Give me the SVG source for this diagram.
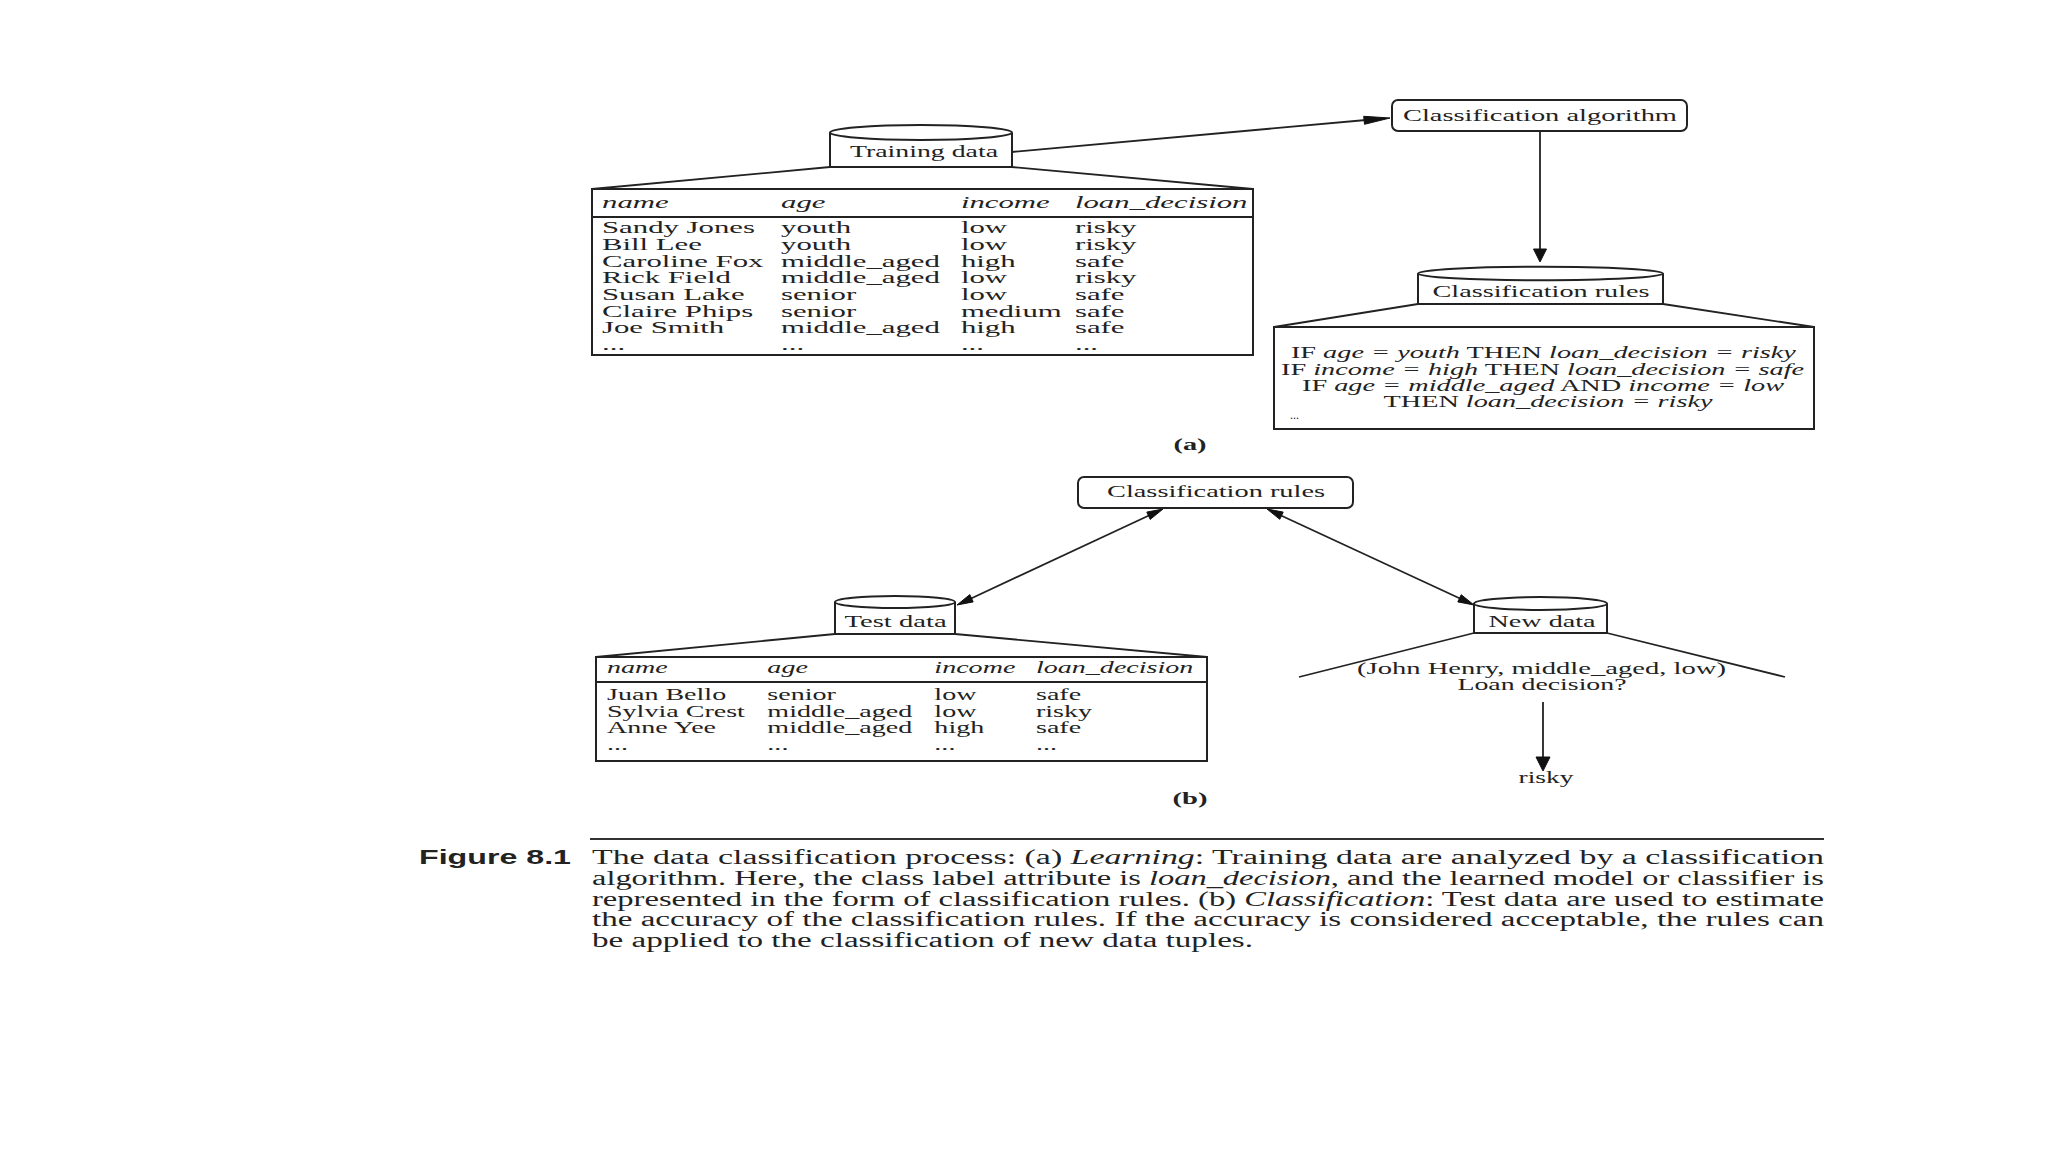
<svg xmlns="http://www.w3.org/2000/svg" width="2048" height="1152" viewBox="0 0 2048 1152">
<style>
  .bg{fill:#ffffff}
  .shape{fill:#ffffff;stroke:#222;stroke-width:2}
  .ln{fill:none;stroke:#222;stroke-width:1.8}
  .conn{fill:none;stroke:#222;stroke-width:1.8}
  .head{fill:#111;stroke:#111;stroke-width:1}
  .t{font-family:"Liberation Serif","Times New Roman",serif;font-size:17px;fill:#222}
  .i{font-style:italic}
  .b{font-weight:bold}
  .mid{text-anchor:middle}
  .cap{font-family:"Liberation Serif","Times New Roman",serif;font-size:20.5px;fill:#222}
  .fig{font-family:"Liberation Sans",Arial,sans-serif;font-size:20px;font-weight:bold;fill:#222}
</style>
<rect class="bg" x="0" y="0" width="2048" height="1152"/>

<g id="connectors">
  <line class="conn" x1="1012" y1="152" x2="1366" y2="120"/>
  <polygon class="head" points="1390,118 1364.5,124.3 1363.7,116.3"/>
  <line class="conn" x1="1540" y1="131" x2="1540" y2="250"/>
  <polygon class="head" points="1540,262 1533.5,249 1546.5,249"/>
  <line class="conn" x1="1150" y1="515" x2="970" y2="599"/>
  <polygon class="head" points="1163,509 1150.2,519.4 1146.8,512.1"/>
  <polygon class="head" points="957,605 973.2,601.9 969.8,594.6"/>
  <line class="conn" x1="1281" y1="515.5" x2="1460" y2="598.5"/>
  <polygon class="head" points="1267,509 1279.8,519.3 1283.2,512.1"/>
  <polygon class="head" points="1474,605 1457.8,601.9 1461.2,594.7"/>
  <line class="conn" x1="1543" y1="702" x2="1543" y2="760"/>
  <polygon class="head" points="1543,771 1536,757 1550,757"/>
</g>

<g id="training-data">
  <line class="ln" x1="830" y1="167" x2="592" y2="189"/>
  <line class="ln" x1="1012" y1="167" x2="1253" y2="189"/>
  <path class="shape" d="M830,133 L830,167 L1012,167 L1012,133"/>
  <ellipse class="shape" cx="921" cy="132.5" rx="91" ry="7.5"/>
  <text class="t mid" x="924" y="157" textLength="148" lengthAdjust="spacingAndGlyphs">Training data</text>
  <rect class="shape" x="592" y="189" width="661" height="166"/>
  <line class="ln" x1="592" y1="217" x2="1253" y2="217"/>
  <g transform="translate(602,0) scale(1.81,1)" class="t">
    <text class="i" x="0" y="208.3">name</text>
    <text class="i" x="98.9" y="208.3">age</text>
    <text class="i" x="198.3" y="208.3">income</text>
    <text class="i" x="261.3" y="208.3">loan_decision</text>
    <text x="0" y="233.3">Sandy Jones</text><text x="98.9" y="233.3">youth</text><text x="198.3" y="233.3">low</text><text x="261.3" y="233.3">risky</text>
    <text x="0" y="250">Bill Lee</text><text x="98.9" y="250">youth</text><text x="198.3" y="250">low</text><text x="261.3" y="250">risky</text>
    <text x="0" y="266.7">Caroline Fox</text><text x="98.9" y="266.7">middle_aged</text><text x="198.3" y="266.7">high</text><text x="261.3" y="266.7">safe</text>
    <text x="0" y="283.5">Rick Field</text><text x="98.9" y="283.5">middle_aged</text><text x="198.3" y="283.5">low</text><text x="261.3" y="283.5">risky</text>
    <text x="0" y="300">Susan Lake</text><text x="98.9" y="300">senior</text><text x="198.3" y="300">low</text><text x="261.3" y="300">safe</text>
    <text x="0" y="317">Claire Phips</text><text x="98.9" y="317">senior</text><text x="198.3" y="317">medium</text><text x="261.3" y="317">safe</text>
    <text x="0" y="333.3">Joe Smith</text><text x="98.9" y="333.3">middle_aged</text><text x="198.3" y="333.3">high</text><text x="261.3" y="333.3">safe</text>
    <text x="0" y="350">...</text><text x="98.9" y="350">...</text><text x="198.3" y="350">...</text><text x="261.3" y="350">...</text>
  </g>
</g>

<g id="classification-algorithm">
  <rect class="shape" x="1392" y="100" width="295" height="31" rx="6"/>
  <text class="t mid" x="1540" y="121" textLength="274" lengthAdjust="spacingAndGlyphs">Classification algorithm</text>
</g>

<g id="classification-rules-a">
  <line class="ln" x1="1418" y1="304" x2="1274" y2="327"/>
  <line class="ln" x1="1663" y1="304" x2="1814" y2="327"/>
  <path class="shape" d="M1418,273.5 L1418,304 L1663,304 L1663,273.5"/>
  <ellipse class="shape" cx="1540.5" cy="273.5" rx="122.5" ry="6.8"/>
  <text class="t mid" x="1541" y="297.3" textLength="217" lengthAdjust="spacingAndGlyphs">Classification rules</text>
  <rect class="shape" x="1274" y="327" width="540" height="102"/>
  <text class="t mid" x="1543.4" y="358.3" textLength="505" lengthAdjust="spacingAndGlyphs">IF <tspan class="i">age = youth</tspan> THEN <tspan class="i">loan_decision = risky</tspan></text>
  <text class="t mid" x="1542.6" y="374.5" textLength="523" lengthAdjust="spacingAndGlyphs">IF <tspan class="i">income = high</tspan> THEN <tspan class="i">loan_decision = safe</tspan></text>
  <text class="t mid" x="1543" y="390.5" textLength="482" lengthAdjust="spacingAndGlyphs">IF <tspan class="i">age = middle_aged</tspan> AND <tspan class="i">income = low</tspan></text>
  <text class="t mid" x="1548" y="406.5" textLength="329" lengthAdjust="spacingAndGlyphs">THEN <tspan class="i">loan_decision = risky</tspan></text>
  <text class="t" x="1290" y="419" style="font-size:12px">...</text>
</g>

<text id="label-a" class="t b mid" x="1190" y="450" textLength="33" lengthAdjust="spacingAndGlyphs">(a)</text>

<g id="classification-rules-b">
  <rect class="shape" x="1078" y="477" width="275" height="31" rx="6"/>
  <text class="t mid" x="1216" y="497" textLength="218" lengthAdjust="spacingAndGlyphs">Classification rules</text>
</g>

<g id="test-data">
  <line class="ln" x1="835" y1="634" x2="596" y2="657"/>
  <line class="ln" x1="955" y1="634" x2="1207" y2="657"/>
  <path class="shape" d="M835,602 L835,634 L955,634 L955,602"/>
  <ellipse class="shape" cx="895" cy="602" rx="60" ry="6"/>
  <text class="t mid" x="895.6" y="627" textLength="102" lengthAdjust="spacingAndGlyphs">Test data</text>
  <rect class="shape" x="596" y="657" width="611" height="104"/>
  <line class="ln" x1="596" y1="682" x2="1207" y2="682"/>
  <g transform="translate(607,0) scale(1.65,1)" class="t">
    <text class="i" x="0" y="673.3">name</text>
    <text class="i" x="97.2" y="673.3">age</text>
    <text class="i" x="198.4" y="673.3">income</text>
    <text class="i" x="260" y="673.3">loan_decision</text>
    <text x="0" y="700.5">Juan Bello</text><text x="97.2" y="700.5">senior</text><text x="198.4" y="700.5">low</text><text x="260" y="700.5">safe</text>
    <text x="0" y="717">Sylvia Crest</text><text x="97.2" y="717">middle_aged</text><text x="198.4" y="717">low</text><text x="260" y="717">risky</text>
    <text x="0" y="733.5">Anne Yee</text><text x="97.2" y="733.5">middle_aged</text><text x="198.4" y="733.5">high</text><text x="260" y="733.5">safe</text>
    <text x="0" y="750">...</text><text x="97.2" y="750">...</text><text x="198.4" y="750">...</text><text x="260" y="750">...</text>
  </g>
</g>

<g id="new-data">
  <line class="ln" x1="1474" y1="633" x2="1299" y2="677"/>
  <line class="ln" x1="1607" y1="633" x2="1785" y2="677"/>
  <path class="shape" d="M1474,603.5 L1474,633 L1607,633 L1607,603.5"/>
  <ellipse class="shape" cx="1540.5" cy="603.5" rx="66.5" ry="6.5"/>
  <text class="t mid" x="1542" y="626.7" textLength="107" lengthAdjust="spacingAndGlyphs">New data</text>
  <text class="t mid" x="1541.5" y="674" textLength="369" lengthAdjust="spacingAndGlyphs">(John Henry, middle_aged, low)</text>
  <text class="t mid" x="1542" y="690" textLength="169" lengthAdjust="spacingAndGlyphs">Loan decision?</text>
</g>

<g id="result">
  <text class="t mid" x="1546" y="783" textLength="55" lengthAdjust="spacingAndGlyphs">risky</text>
</g>

<text id="label-b" class="t b mid" x="1190" y="804" textLength="35" lengthAdjust="spacingAndGlyphs">(b)</text>

<g id="caption">
  <line x1="590" y1="839" x2="1824" y2="839" stroke="#333" stroke-width="2"/>
  <text class="fig" x="419" y="864" textLength="152" lengthAdjust="spacingAndGlyphs">Figure 8.1</text>
  <text class="cap" x="592" y="864" textLength="1232" lengthAdjust="spacingAndGlyphs">The data classification process: (a) <tspan class="i">Learning</tspan>: Training data are analyzed by a classification</text>
  <text class="cap" x="592" y="885" textLength="1232" lengthAdjust="spacingAndGlyphs">algorithm. Here, the class label attribute is <tspan class="i">loan_decision</tspan>, and the learned model or classifier is</text>
  <text class="cap" x="592" y="905.5" textLength="1232" lengthAdjust="spacingAndGlyphs">represented in the form of classification rules. (b) <tspan class="i">Classification</tspan>: Test data are used to estimate</text>
  <text class="cap" x="592" y="926" textLength="1232" lengthAdjust="spacingAndGlyphs">the accuracy of the classification rules. If the accuracy is considered acceptable, the rules can</text>
  <text class="cap" x="592" y="946.5" textLength="661" lengthAdjust="spacingAndGlyphs">be applied to the classification of new data tuples.</text>
</g>
</svg>
